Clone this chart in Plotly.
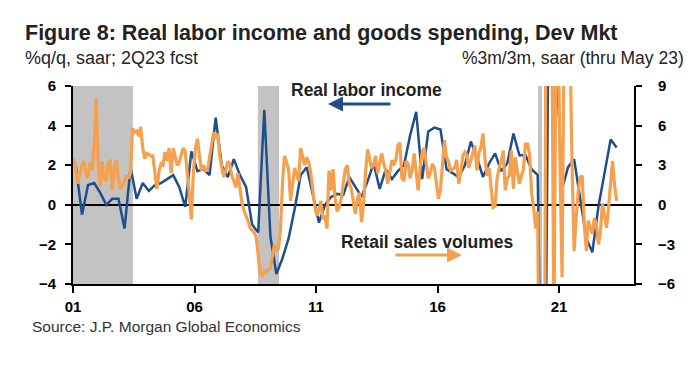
import plotly.graph_objects as go
import pandas as pd

# ---------------- data ----------------
# Real labor income, %q/q saar (left axis), quarterly 2001Q1 .. 2023Q2
labor_income = [
    1.9, -0.5, 1.0, 1.1,      # 2001
    0.6, 0.0, 0.3, 0.3,       # 2002
    -1.2, 1.9, 0.3, 1.1,      # 2003
    0.7, 1.0, 1.1, 1.3,       # 2004
    1.5, 0.9, -0.1, 2.7,      # 2005
    1.7, 1.8, 1.5, 4.4,       # 2006
    2.0, 1.4, 2.3, 1.5,       # 2007
    0.9, -1.0, -1.4, 4.8,     # 2008
    -1.6, -3.5, -2.7, -1.7,   # 2009
    -0.2, 1.5, 1.9, 0.5,      # 2010
    -0.9, 0.0, 0.4, 0.55,     # 2011
    0.5, 1.4, 0.9, 0.4,       # 2012
    1.2, 2.1, 0.8, 1.8,       # 2013
    1.3, 1.7, 2.0, 3.5,       # 2014
    4.7, 1.3, 3.7, 3.9,       # 2015
    3.8, 1.8, 1.6, 1.4,       # 2016
    2.0, 3.2, 2.4, 1.4,       # 2017
    2.1, 2.6, 1.7, 2.1,       # 2018
    3.6, 2.5, 2.5, 1.8,       # 2019
    1.5, -20.0, 18.0, 8.0,    # 2020
    0.8, 1.9, 2.3, 0.3,       # 2021
    -1.7, -2.4, -0.1, 1.6,    # 2022
    3.3, 2.9,                 # 2023
]

# Retail sales volumes, %3m/3m saar (right axis), monthly Jan 2001 .. May 2023
retail_sales = [
    3.5, 2.6, 1.6, 2.4, 3.0, 3.3, 2.4, 2.0, 3.2, 2.6, 4.5, 8.1,          # 2001
    3.0, 1.4, 3.3, 2.0, 1.8, 3.2, 3.3, 1.1, 2.8, 3.4, 2.0, 1.2,          # 2002
    1.4, 1.8, 2.2, 2.0, 2.4, 5.8, 5.5, 5.6, 5.2, 5.9, 4.3, 3.5,          # 2003
    3.9, 3.8, 3.7, 3.7, 2.4, 1.2, 2.5, 3.1, 3.0, 4.0, 3.3, 4.3,          # 2004
    2.4, 4.3, 3.7, 3.0, 3.2, 3.8, 4.3, 4.0, 2.0, 0.8, -1.1, 2.5,         # 2005
    4.3, 5.0, 3.8, 2.6, 3.0, 2.6, 2.6, 3.6, 4.9, 5.5, 5.0, 5.4,          # 2006
    3.7, 2.8, 2.1, 2.6, 3.3, 3.1, 2.2, 1.8, 1.3, 2.4, 1.2, 0.15,         # 2007
    -0.45, -0.8, -1.2, -1.75, -1.9, -2.1, -2.4, -4.0, -5.2, -5.4, -5.0, -5.1,  # 2008
    -4.9, -4.8, -3.8, -3.0, -3.5, -3.3, -2.0, 1.6, 3.7, 3.2, 2.7, 0.3,   # 2009
    1.5, 2.8, 2.3, 1.8, 4.3, 3.6, 3.0, 3.6, 3.2, 2.4, 1.0, -0.2,         # 2010
    -0.8, -0.4, 0.3, -1.1, -0.8, -1.8, 2.6, 1.1, 2.7, 0.5, -0.5, -0.2,   # 2011
    0.45, 1.8, 2.7, 3.0, 1.6, 1.2, 0.15, -0.7, 0.5, 0.9, -1.3, 0.0,      # 2012
    2.5, 4.2, 3.5, 2.8, 3.0, 3.7, 2.4, 3.2, 3.9, 3.1, 2.6, 1.6,          # 2013
    2.4, 3.4, 3.0, 3.4, 4.5, 4.7, 2.0, 1.8, 3.3, 3.1, 2.0, 2.6,          # 2014
    3.9, 2.4, 1.1, 2.8, 4.0, 4.3, 3.0, 2.0, 2.4, 3.1, 2.8, 1.5,          # 2015
    0.45, 1.2, 2.7, 4.9, 3.6, 3.3, 2.6, 2.7, 2.8, 3.4, 1.6, 2.4,         # 2016
    3.7, 4.0, 3.8, 2.8, 3.4, 3.9, 4.5, 2.6, 3.9, 4.4, 5.4, 3.5,          # 2017
    2.2, 2.8, 1.3, -0.2, -0.1, 2.0, 2.8, 3.3, 4.1, 1.1, 2.0, 2.2,        # 2018
    4.1, 1.2, 3.6, 2.5, 1.6, 2.2, 2.7, 4.6, 4.6, 3.9, 0.9, -0.2,         # 2019
    -1.8, -0.5, -25.0, -45.0, -30.0, 20.0, 50.0, 40.0, 15.0, -10.0, 12.0, 15.0,  # 2020
    3.0, -5.5, 12.0, 14.0, 10.0, 12.0, 3.0, -3.5, -1.0, 1.0, 2.1, 2.2,   # 2021
    -1.5, -3.5, -1.2, -1.8, -2.2, -1.0, -1.5, -3.0, -2.0, 0.1, -1.0, -1.75,  # 2022
    -0.2, 1.5, 3.3, 1.5, 0.3,                                            # 2023
]

quarter_dates = pd.date_range("2001-01-01", periods=len(labor_income), freq="QS") + pd.Timedelta(days=45)
month_dates = pd.date_range("2001-01-01", periods=len(retail_sales), freq="MS") + pd.Timedelta(days=14)

recessions = [("2001-01-01", "2003-06-20"), ("2008-08-10", "2009-06-25"), ("2020-02-20", "2020-04-20")]

tick_years = ["2001-01-01", "2006-01-01", "2011-01-01", "2016-01-01", "2021-01-01"]
tick_labels = ["01", "06", "11", "16", "21"]

# ---------------- style ----------------
BLUE = "#1F4E8A"
ORANGE = "#F5A04E"
FONT = "Liberation Sans, Arial, sans-serif"

W, H = 700, 374
L, R, T, B = 73, 634, 86, 284


def px(x):
    return (x - L) / (R - L)


def py(y):
    return (B - y) / (B - T)


fig = go.Figure()

fig.add_trace(go.Scatter(x=month_dates, y=retail_sales, yaxis="y2", mode="lines",
                         line=dict(color=ORANGE, width=3.2), hoverinfo="skip"))
fig.add_trace(go.Scatter(x=quarter_dates, y=labor_income, yaxis="y", mode="lines",
                         line=dict(color=BLUE, width=2.5), hoverinfo="skip"))

for a, b in recessions:
    fig.add_shape(type="rect", xref="x", yref="paper", x0=a, x1=b, y0=0, y1=1,
                  fillcolor="#C3C3C3", line=dict(width=0), layer="below")

axis_font = dict(family=FONT, size=15, color="black", weight="bold")

fig.update_layout(
    width=W, height=H,
    margin=dict(l=L, r=W - R, t=T, b=H - B),
    paper_bgcolor="white", plot_bgcolor="white",
    showlegend=False,
    font=dict(family=FONT, color="black"),
    xaxis=dict(type="date", range=["2001-01-01", "2024-02-01"],
               tickvals=tick_years, ticktext=tick_labels,
               ticks="outside", ticklen=7, tickwidth=2, tickcolor="black",
               showline=True, linecolor="black", linewidth=2,
               showgrid=False, zeroline=False, tickfont=axis_font,
               ticklabelstandoff=1),
    yaxis=dict(range=[-4, 6], dtick=2, ticks="outside", ticklen=6, tickwidth=2,
               tickcolor="black", showline=True, linecolor="black", linewidth=2,
               showgrid=False, zeroline=True, zerolinecolor="black", zerolinewidth=1.5,
               tickfont=axis_font, ticklabelstandoff=6),
    yaxis2=dict(range=[-6, 9], dtick=3, overlaying="y", side="right",
                ticks="outside", ticklen=6, tickwidth=2, tickcolor="black",
                showline=True, linecolor="black", linewidth=2,
                showgrid=False, zeroline=False, tickfont=axis_font,
                ticklabelstandoff=13),
)

ann = [
    dict(text="<b>Figure 8: Real labor income and goods spending, Dev Mkt</b>",
         x=px(23), y=py(33), xanchor="left", yanchor="middle",
         font=dict(size=21.5, color="#222")),
    dict(text="%q/q, saar; 2Q23 fcst", x=px(23), y=py(58), xanchor="left", yanchor="middle",
         font=dict(size=18, color="#222")),
    dict(text="%3m/3m, saar (thru May 23)", x=px(686), y=py(58), xanchor="right", yanchor="middle",
         font=dict(size=17.5, color="#222")),
    dict(text="Source: J.P. Morgan Global Economics", x=px(30), y=py(326), xanchor="left",
         yanchor="middle", font=dict(size=15.5, color="#333")),
    dict(text="<b>Real labor income</b>", x=px(366), y=py(90), xanchor="center", yanchor="middle",
         font=dict(size=17.5, color="#222")),
    dict(text="<b>Retail sales volumes</b>", x=px(427), y=py(242), xanchor="center", yanchor="middle",
         font=dict(size=17.5, color="#222")),
    dict(text="", x=px(328), y=py(104), ax=64, ay=0, axref="pixel", ayref="pixel",
         showarrow=True, arrowhead=2, arrowsize=1, arrowwidth=3, arrowcolor=BLUE),
    dict(text="", x=px(462), y=py(255), ax=-68, ay=0, axref="pixel", ayref="pixel",
         showarrow=True, arrowhead=2, arrowsize=1, arrowwidth=3, arrowcolor=ORANGE),
]
for a in ann:
    a.setdefault("xref", "paper")
    a.setdefault("yref", "paper")
    a.setdefault("showarrow", False)
    fig.add_annotation(**a)

fig.write_html("out.html", config={"displayModeBar": False},
               post_script="document.body.style.margin='0px';")
